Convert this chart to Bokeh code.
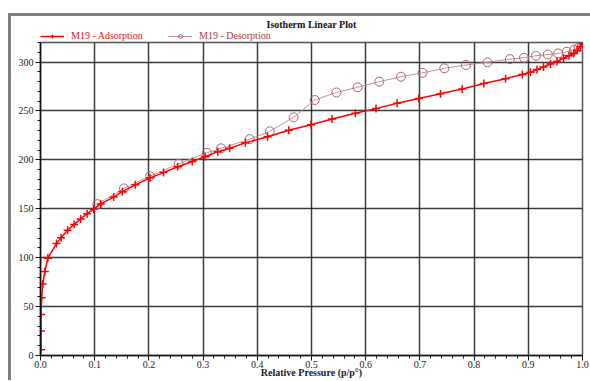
from bokeh.plotting import figure
from bokeh.layouts import column
from bokeh.models import (ColumnDataSource, Range1d, SingleIntervalTicker, Legend, LegendItem,
                          NumeralTickFormatter)
from bokeh.embed import file_html
from bokeh.resources import INLINE

# Data
ads_p = [0.001, 0.001, 0.001, 0.002, 0.004, 0.008, 0.0135, 0.0295, 0.038, 0.050,
         0.062, 0.074, 0.086, 0.098, 0.111, 0.135, 0.151, 0.175, 0.202, 0.227,
         0.253, 0.280, 0.304, 0.327, 0.349, 0.378, 0.419, 0.458, 0.499, 0.538,
         0.581, 0.619, 0.658, 0.698, 0.738, 0.778, 0.818, 0.858, 0.889, 0.904,
         0.916, 0.928, 0.941, 0.953, 0.965, 0.975, 0.984, 0.990, 0.996, 0.999]
ads_v = [6, 25, 42, 59, 73, 86, 99.5, 114.4, 120.5, 128,
         134, 139.6, 145, 149.6, 155, 162, 167.5, 174.5, 181.6, 187,
         193, 198.4, 203.4, 208.4, 211.8, 217.5, 223.6, 230.2, 236, 241.7,
         247.7, 252.4, 257.8, 262.8, 267.5, 272.5, 278, 283, 287.3, 289.6,
         292.3, 295, 298, 300.7, 304, 306.4, 309, 311.8, 315.8, 319]

des_p = [0.999, 0.993, 0.984, 0.971, 0.955, 0.936, 0.914, 0.892, 0.866, 0.825,
         0.785, 0.745, 0.705, 0.665, 0.625, 0.585, 0.546, 0.506, 0.467, 0.423,
         0.386, 0.333, 0.307, 0.255, 0.202, 0.154, 0.105]
des_v = [318.5, 315.2, 312.5, 310.5, 308.8, 307.7, 306.4, 304.4, 303, 299.7,
         297, 293.6, 289, 285, 280, 274.2, 268.9, 261.2, 243.5, 229.2,
         221.2, 211.8, 207.2, 196, 183.3, 170.8, 154.7]

title_text = "Isotherm Linear Plot"
x_label = "Relative Pressure (p/p°)"
ads_label = "M19 - Adsorption"
des_label = "M19 - Desorption"

SERIF = "Liberation Serif"
DES_LINE = "#c89098"
DES_MARK = "#b06070"
ADS = "#ff0000"

ads_src = ColumnDataSource(dict(x=ads_p, y=ads_v))
des_src = ColumnDataSource(dict(x=des_p, y=des_v))

# ---- top strip: title + legend (its ranges keep the series out of view) ----
top = figure(width=579, height=25, output_backend="svg", toolbar_location=None,
             x_range=Range1d(0, 1), y_range=Range1d(-2, -1),
             x_axis_location=None, y_axis_location=None,
             min_border_left=29, min_border_right=8, min_border_top=0, min_border_bottom=0)
top.grid.visible = False
top.outline_line_color = None
top.title.text = title_text
top.title.align = "center"
top.title.text_font = SERIF
top.title.text_font_size = "10px"
top.title.text_font_style = "bold"
top.title.text_color = "#111111"
top.title.standoff = 0

t_al = top.line("x", "y", source=ads_src, line_color=ADS, line_width=1.5)
t_am = top.scatter("x", "y", source=ads_src, marker="cross", size=8, line_color=ADS, line_width=1.5)
t_dl = top.line("x", "y", source=des_src, line_color=DES_LINE, line_width=1)
t_dm = top.scatter("x", "y", source=des_src, marker="circle", size=9,
                   fill_color=None, line_color=DES_MARK, line_width=1)

common = dict(orientation="horizontal", background_fill_alpha=0, border_line_color=None,
              padding=0, margin=0, spacing=0, glyph_width=24, glyph_height=10,
              label_height=10, label_standoff=7, label_text_font=SERIF,
              label_text_font_size="10px")
leg1 = Legend(items=[LegendItem(label=ads_label, renderers=[t_al, t_am])],
              location=(0, 0), label_text_color="#e8101c", **common)
leg2 = Legend(items=[LegendItem(label=des_label, renderers=[t_dl, t_dm])],
              location=(128, 0), label_text_color="#a83848", **common)
top.add_layout(leg1)
top.add_layout(leg2)

# ---- main plot ----
p = figure(width=579, height=339, output_backend="svg", toolbar_location=None,
           x_range=Range1d(0, 1.0), y_range=Range1d(0, 320),
           min_border_left=29, min_border_right=8, min_border_top=1, min_border_bottom=10)

p.outline_line_color = "#555555"
p.outline_line_width = 1.5

p.line("x", "y", source=des_src, line_color=DES_LINE, line_width=1)
p.scatter("x", "y", source=des_src, marker="circle", size=9,
          fill_color=None, line_color=DES_MARK, line_width=1)
p.line("x", "y", source=ads_src, line_color=ADS, line_width=1.5)
p.scatter("x", "y", source=ads_src, marker="cross", size=8,
          line_color=ADS, line_width=1.5)

p.xaxis.ticker = SingleIntervalTicker(interval=0.1, num_minor_ticks=5)
p.yaxis.ticker = SingleIntervalTicker(interval=50, num_minor_ticks=5)
for ax in (p.xaxis[0], p.yaxis[0]):
    ax.major_label_text_font = SERIF
    ax.major_label_text_font_size = "10px"
    ax.major_label_text_color = "#222222"
    ax.axis_line_color = "#111111"
    ax.axis_line_width = 1.5
    ax.major_tick_line_color = "#111111"
    ax.minor_tick_line_color = "#111111"
    ax.major_tick_in = 0
    ax.major_tick_out = 5
    ax.minor_tick_in = 0
    ax.minor_tick_out = 3
p.yaxis.major_label_standoff = 2
p.xaxis.major_label_standoff = 0
p.xaxis.formatter = NumeralTickFormatter(format="0.0")
p.xaxis.axis_label = x_label
p.xaxis.axis_label_text_font = SERIF
p.xaxis.axis_label_text_font_size = "10px"
p.xaxis.axis_label_text_font_style = "bold"
p.xaxis.axis_label_text_color = "#222222"
p.xaxis.axis_label_standoff = -4

for g in (p.xgrid[0], p.ygrid[0]):
    g.grid_line_color = "#1a1a1a"
    g.grid_line_width = 1.5
    g.grid_line_alpha = 0.85

layout = column(top, p, spacing=0)
layout.styles = {"margin-left": "8px", "margin-top": "13px",
                 "border-left": "3px solid #808080", "border-top": "3px solid #808080"}

open("out.html", "w").write(file_html(layout, INLINE))
